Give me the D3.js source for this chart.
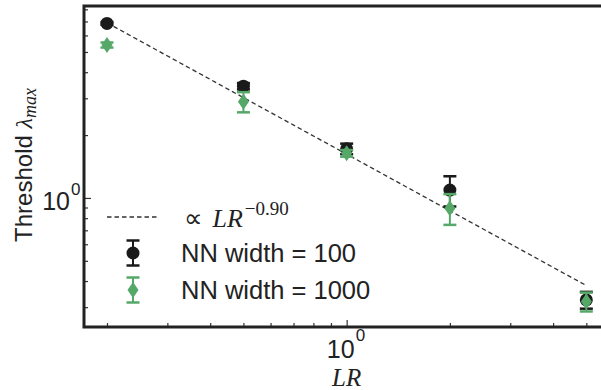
<!DOCTYPE html>
<html>
<head>
<meta charset="utf-8">
<script src="https://cdn.jsdelivr.net/npm/d3@7"></script>
<style>
  body { margin: 0; background: #fff; }
  svg { display: block; }
</style>
</head>
<body>
<div id="chart"></div>
<script>
// data
let lr = [0.2, 0.5, 1, 2, 5];
let width100 = [6.85, 3.43, 1.72, 1.09, 0.325];
let err100 = [0.10, 0.12, 0.10, 0.18, 0.03];
let width1000 = [5.40, 2.89, 1.636, 0.893, 0.319];
let err1000 = [0.15, 0.32, 0.06, 0.15, 0.033];
let fitCoef = 1.62, fitExp = -0.90;
let xMinorTicks = [0.2, 0.3, 0.4, 0.5, 0.6, 0.7, 0.8, 0.9, 2, 3, 4, 5];
let yMinorTicks = [0.3, 0.4, 0.5, 0.6, 0.7, 0.8, 0.9, 2, 3, 4, 5, 6, 7, 8];
let majorTicks = [1];

let width = 601, height = 390;
let plotLeft = 84, plotRight = 604, plotTop = 6, plotBottom = 327;
let black = "#1a1a1a", green = "#55a868";
let sans = "'Liberation Sans', Arial, sans-serif";
let serif = "'Liberation Serif', 'Times New Roman', serif";

let svg = d3.select("#chart").append("svg")
    .attr("width", width)
    .attr("height", height);

let x = d3.scaleLog().domain([0.1714, 5.63]).range([plotLeft, plotRight]);
let y = d3.scaleLog().domain([0.241, 8.3]).range([plotBottom, plotTop]);

// ticks (pointing inward)
svg.append("g")
    .attr("transform", `translate(0,${plotBottom})`)
    .call(d3.axisBottom(x).tickValues(xMinorTicks).tickSize(-4).tickFormat(""))
    .call(g => g.select(".domain").remove());
svg.append("g")
    .attr("transform", `translate(0,${plotBottom})`)
    .call(d3.axisBottom(x).tickValues(majorTicks).tickSize(-7).tickFormat(""))
    .call(g => g.select(".domain").remove());
svg.append("g")
    .attr("transform", `translate(${plotLeft},0)`)
    .call(d3.axisLeft(y).tickValues(yMinorTicks).tickSize(-4).tickFormat(""))
    .call(g => g.select(".domain").remove());
svg.append("g")
    .attr("transform", `translate(${plotLeft},0)`)
    .call(d3.axisLeft(y).tickValues(majorTicks).tickSize(-7).tickFormat(""))
    .call(g => g.select(".domain").remove());
svg.selectAll(".tick line").attr("stroke", "#333").attr("stroke-width", 1.2);

// tick labels 10^0
majorTicks.forEach(v => {
    svg.append("text")
        .attr("x", x(v) + 8)
        .attr("y", plotBottom + 31)
        .attr("text-anchor", "end")
        .attr("font-family", sans)
        .attr("font-size", "25px")
        .attr("fill", "#222")
        .text("10");
    svg.append("text")
        .attr("x", x(v) + 9)
        .attr("y", plotBottom + 14)
        .attr("font-family", sans)
        .attr("font-size", "17px")
        .attr("fill", "#222")
        .text("0");

    svg.append("text")
        .attr("x", 70)
        .attr("y", y(v) + 12)
        .attr("text-anchor", "end")
        .attr("font-family", sans)
        .attr("font-size", "25px")
        .attr("fill", "#222")
        .text("10");
    svg.append("text")
        .attr("x", 71)
        .attr("y", y(v) - 3)
        .attr("font-family", sans)
        .attr("font-size", "17px")
        .attr("fill", "#222")
        .text("0");
});

// axis labels
svg.append("text")
    .attr("x", x(1))
    .attr("y", 386)
    .attr("text-anchor", "middle")
    .attr("font-family", serif)
    .attr("font-style", "italic")
    .attr("font-size", "25px")
    .attr("fill", "#222")
    .text("LR");

let ylab = svg.append("text")
    .attr("transform", "translate(32,165) rotate(-90)")
    .attr("text-anchor", "middle")
    .attr("font-family", sans)
    .attr("font-size", "24px")
    .attr("fill", "#222");
ylab.append("tspan").text("Threshold ");
ylab.append("tspan").attr("font-family", serif).attr("font-style", "italic").text("λ");
ylab.append("tspan").attr("font-family", serif).attr("font-style", "italic")
    .attr("font-size", "18px").attr("dy", 4).text("max");

// fit line
let fitData = [lr[0], lr[lr.length - 1]].map(v => [v, fitCoef * Math.pow(v, fitExp)]);
svg.append("path")
    .datum(fitData)
    .attr("d", d3.line().x(d => x(d[0])).y(d => y(d[1])))
    .attr("fill", "none")
    .attr("stroke", "#333")
    .attr("stroke-width", 1.3)
    .attr("stroke-dasharray", "4.5,3");

function diamondPath(cx, cy) {
    return `M${cx},${cy - 8}L${cx + 5.5},${cy}L${cx},${cy + 8}L${cx - 5.5},${cy}Z`;
}

function drawSeries(vals, errs, color, shape) {
    let g = svg.append("g");
    let pts = lr.map((v, i) => ({ x: v, y: vals[i], e: errs[i] }));
    g.selectAll(".bar").data(pts).enter().append("line")
        .attr("x1", d => x(d.x)).attr("x2", d => x(d.x))
        .attr("y1", d => y(d.y - d.e)).attr("y2", d => y(d.y + d.e))
        .attr("stroke", color).attr("stroke-width", 2);
    [-1, 1].forEach(s => {
        g.selectAll(".cap" + s).data(pts).enter().append("line")
            .attr("x1", d => x(d.x) - 6.5).attr("x2", d => x(d.x) + 6.5)
            .attr("y1", d => y(d.y + s * d.e)).attr("y2", d => y(d.y + s * d.e))
            .attr("stroke", color).attr("stroke-width", 2.5);
    });
    if (shape === "circle") {
        g.selectAll(".mk").data(pts).enter().append("circle")
            .attr("cx", d => x(d.x)).attr("cy", d => y(d.y)).attr("r", 6.5)
            .attr("fill", color);
    } else {
        g.selectAll(".mk").data(pts).enter().append("path")
            .attr("d", d => diamondPath(x(d.x), y(d.y)))
            .attr("fill", color);
    }
}
drawSeries(width100, err100, black, "circle");
drawSeries(width1000, err1000, green, "diamond");

// spines
svg.append("path")
    .attr("d", `M${plotRight},${plotTop}H${plotLeft}V${plotBottom}H${plotRight}`)
    .attr("fill", "none")
    .attr("stroke", "#222")
    .attr("stroke-width", 3);

// legend
let legend = svg.append("g");
legend.append("line")
    .attr("x1", 107).attr("x2", 157).attr("y1", 217).attr("y2", 217)
    .attr("stroke", "#333").attr("stroke-width", 1.3).attr("stroke-dasharray", "4.5,3");
let fitLab = legend.append("text")
    .attr("x", 184).attr("y", 227)
    .attr("font-family", serif)
    .attr("font-size", "26px")
    .attr("fill", "#222");
fitLab.append("tspan").text("∝ ");
fitLab.append("tspan").attr("font-style", "italic").attr("dx", 3).text("LR");
fitLab.append("tspan").attr("font-size", "19px").attr("dx", 2).attr("dy", -12).text("−0.90");

function legendItem(cy, color, shape, label) {
    legend.append("line").attr("x1", 133).attr("x2", 133).attr("y1", cy - 12.5).attr("y2", cy + 12.5)
        .attr("stroke", color).attr("stroke-width", 2);
    [-12.5, 12.5].forEach(o => legend.append("line")
        .attr("x1", 126.5).attr("x2", 139.5).attr("y1", cy + o).attr("y2", cy + o)
        .attr("stroke", color).attr("stroke-width", 2.5));
    if (shape === "circle") legend.append("circle").attr("cx", 133).attr("cy", cy).attr("r", 6.5).attr("fill", color);
    else legend.append("path").attr("d", diamondPath(133, cy)).attr("fill", color);
    legend.append("text")
        .attr("x", 181).attr("y", cy + 9)
        .attr("font-family", sans)
        .attr("font-size", "25.5px")
        .attr("fill", "#222")
        .text(label);
}
legendItem(253, black, "circle", "NN width = 100");
legendItem(290, green, "diamond", "NN width = 1000");
</script>
</body>
</html>
